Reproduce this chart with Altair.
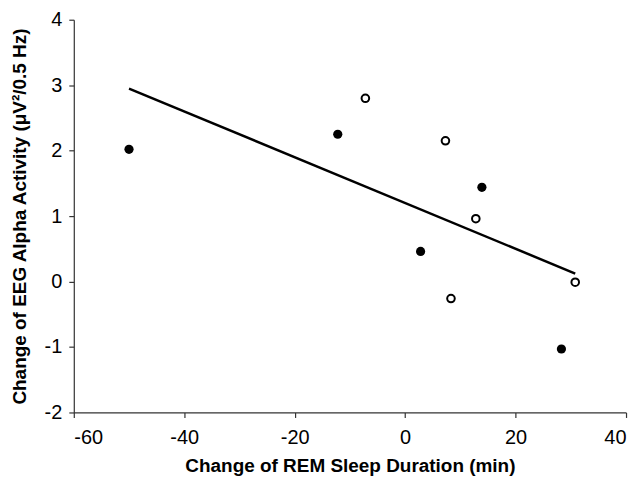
import altair as alt
import pandas as pd

# Change of REM sleep duration (min) and change of EEG alpha activity
rem_change = [-50.0, -12.2, 13.9, 2.8, 28.3, -7.2, 7.3, 12.8, 8.3, 30.8]
alpha_change = [2.02, 2.25, 1.44, 0.46, -1.03, 2.80, 2.15, 0.96, -0.26, -0.01]
group = ["filled", "filled", "filled", "filled", "filled",
         "open", "open", "open", "open", "open"]

x_ticks = [-60, -40, -20, 0, 20, 40]
y_ticks = [-2, -1, 0, 1, 2, 3, 4]

df = pd.DataFrame({"x": rem_change, "y": alpha_change, "g": group})

FONT = "Liberation Sans"

x_enc = alt.X("x:Q", scale=alt.Scale(domain=[-60, 40], nice=False),
              axis=alt.Axis(values=x_ticks, title="Change of REM Sleep Duration (min)",
                            labelExpr="'' + datum.value",
                            grid=False, tickSize=5, labelPadding=10, titlePadding=9))
y_enc = alt.Y("y:Q", scale=alt.Scale(domain=[-2, 4], nice=False),
              axis=alt.Axis(values=y_ticks, title="Change of EEG Alpha Activity (μV²/0.5 Hz)",
                            labelExpr="'' + datum.value",
                            grid=False, tickSize=5, labelPadding=7, titlePadding=15))

base = alt.Chart(df)

line = base.transform_regression("x", "y").mark_line(
    color="black", strokeWidth=2.5
).encode(x=x_enc, y=y_enc)

filled = base.transform_filter(alt.datum.g == "filled").mark_point(
    shape="circle", filled=True, color="black", size=85, opacity=1
).encode(x=x_enc, y=y_enc)

open_pts = base.transform_filter(alt.datum.g == "open").mark_point(
    shape="circle", filled=False, fill="white", stroke="black", strokeWidth=2,
    size=58, opacity=1
).encode(x=x_enc, y=y_enc)

chart = alt.layer(line, filled, open_pts).properties(
    width=554, height=394,
    autosize=alt.AutoSizeParams(type="none"),
    padding={"left": 66, "top": 11, "right": 10, "bottom": 70},
).configure_view(stroke=None).configure_axis(
    labelFont=FONT, titleFont=FONT, labelFontSize=20, titleFontSize=19,
    titleFontWeight="bold", labelColor="black", titleColor="black",
    domainColor="#333333", tickColor="#333333", domainWidth=1.2, tickWidth=1.2,
)

chart.save("out.html", embed_options={"renderer": "svg", "actions": False})
